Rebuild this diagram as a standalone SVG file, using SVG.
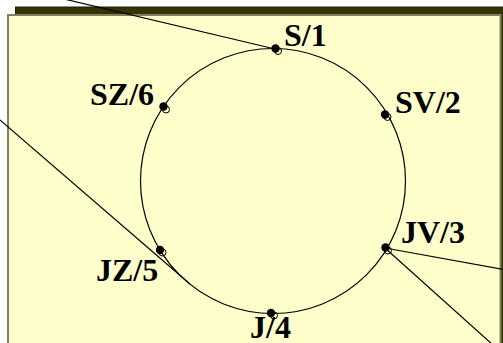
<svg xmlns="http://www.w3.org/2000/svg" width="503" height="343" viewBox="0 0 503 343">
  <style>
    .lbl { font-family: "Liberation Serif", "Times New Roman", serif; font-weight: bold; font-size: 32px; fill: #000; }
    .ln { stroke: #000; stroke-width: 1.2; fill: none; }
    .dot { fill: #000; }
    .ring { fill: none; stroke: #000; stroke-width: 1; }
  </style>
  <g id="background">
    <rect x="15.5" y="7" width="500" height="345" fill="#333300" stroke="#222200" stroke-width="1"/>
    <rect x="8" y="15" width="492.5" height="340" fill="#ffffcc" stroke="#808060" stroke-width="2"/>
  </g>
  <g id="ring">
    <circle cx="273" cy="181" r="132.5" fill="none" stroke="#000" stroke-width="1.2"/>
  </g>
  <g id="connectors">
    <line class="ln" x1="62" y1="-1.5" x2="275" y2="49"/>
    <line class="ln" x1="-5" y1="115.7" x2="190" y2="284"/>
    <line class="ln" x1="385" y1="248" x2="504" y2="269.5"/>
    <line class="ln" x1="385" y1="248" x2="493" y2="345"/>
  </g>
  <g id="node-S1">
    <circle class="ring" cx="278" cy="51" r="3.5"/>
    <circle class="dot" cx="275.5" cy="48.5" r="4.2"/>
    <text class="lbl" x="284" y="46">S/1</text>
  </g>
  <g id="node-SV2">
    <circle class="ring" cx="387.5" cy="117" r="3.5"/>
    <circle class="dot" cx="385" cy="114.5" r="4.2"/>
    <text class="lbl" x="395" y="113">SV/2</text>
  </g>
  <g id="node-JV3">
    <circle class="ring" cx="388" cy="250.5" r="3.5"/>
    <circle class="dot" cx="385.5" cy="247.5" r="4.2"/>
    <text class="lbl" x="401" y="243">JV/3</text>
  </g>
  <g id="node-J4">
    <circle class="ring" cx="274" cy="315.5" r="3.5"/>
    <circle class="dot" cx="271" cy="313" r="4.2"/>
    <text class="lbl" x="250" y="338">J/4</text>
  </g>
  <g id="node-JZ5">
    <circle class="ring" cx="162.5" cy="252.5" r="3.5"/>
    <circle class="dot" cx="160" cy="250" r="4.2"/>
    <text class="lbl" x="96" y="281">JZ/5</text>
  </g>
  <g id="node-SZ6">
    <circle class="ring" cx="166" cy="109.5" r="3.5"/>
    <circle class="dot" cx="163.5" cy="106.5" r="4.2"/>
    <text class="lbl" x="90" y="105">SZ/6</text>
  </g>
</svg>
